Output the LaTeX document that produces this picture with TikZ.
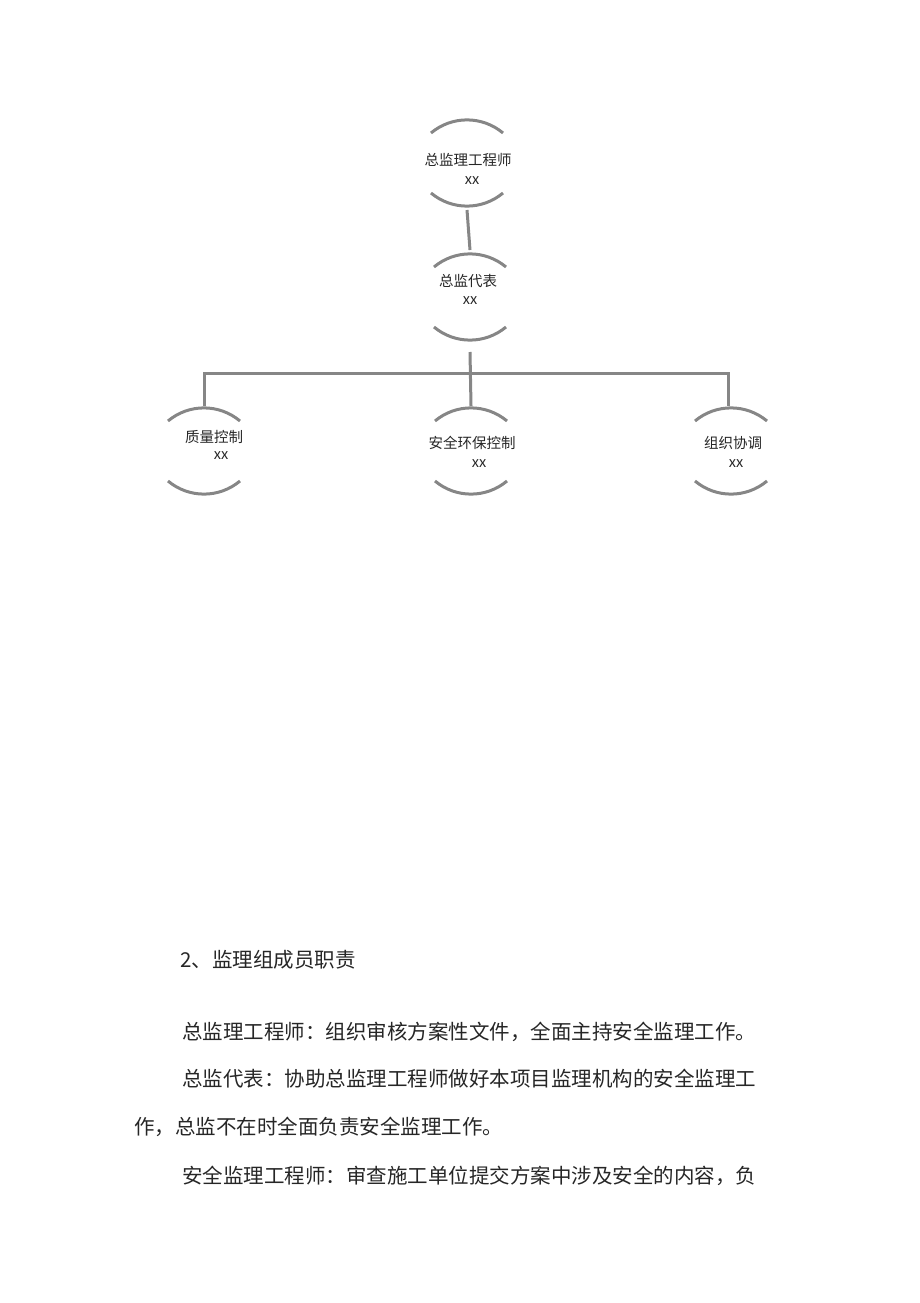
\documentclass[tikz,border=0pt]{standalone}
\usepackage{fontspec}
\setmainfont{Noto Sans CJK SC}
\usetikzlibrary{calc}
\begin{document}
\begin{tikzpicture}[x=1pt,y=-1pt,
  arcs/.style={draw=gray!95,line width=3pt},
  conn/.style={draw=gray!95,line width=3pt},
  lbl/.style={inner sep=0pt,font=\fontsize{14.5}{16}\selectfont,text=black!85},
  body/.style={inner sep=0pt,anchor=west,font=\fontsize{20.5}{24}\selectfont,text=black!85}]
\useasboundingbox (0,0) rectangle (920,1303);
\foreach \cx/\cy/\nm in {467/163/a,470/297/b,204/451/c,471/451/d,731/451/e}{
  \coordinate (\nm) at (\cx,\cy);
  \draw[arcs] (\cx,\cy) ++(-36,-30) arc[start angle=230,end angle=310,radius=56];
  \draw[arcs] (\cx,\cy) ++(-36,30) arc[start angle=130,end angle=50,radius=56];
}
\node[lbl] (ta) at (468,160) {总监理工程师};
\node[lbl] (xa) at (472,181) {xx};
\node[lbl] (tb) at (468,281) {总监代表};
\node[lbl] (xb) at (470,301) {xx};
\node[lbl] (tc) at (214,437) {质量控制};
\node[lbl] (xc) at (221,456) {xx};
\node[lbl] (td) at (472,443) {安全环保控制};
\node[lbl] (xd) at (479,464) {xx};
\node[lbl] (te) at (733,443) {组织协调};
\node[lbl] (xe) at (736,464) {xx};
\coordinate (jl) at (204,373);
\coordinate (jr) at (728,373);
\draw[conn] ($(a)+(0,47)$) -- ($(b)+(0,-47)$);
\draw[conn] ($(b)+(0,55)$) -- ($(d)+(0,-45)$);
\draw[conn] ($(c)+(0,-45)$) -- (jl) -- (jr) -- ($(e)+(-3,-45)$);
\node[body] (p1) at (180,960) {2、监理组成员职责};
\node[body] (p2) at (182,1032) {总监理工程师：组织审核方案性文件，全面主持安全监理工作。};
\node[body] (p3) at (182,1079) {总监代表：协助总监理工程师做好本项目监理机构的安全监理工};
\node[body] (p4) at (134,1127) {作，总监不在时全面负责安全监理工作。};
\node[body] (p5) at (182,1176) {安全监理工程师：审查施工单位提交方案中涉及安全的内容，负};
\end{tikzpicture}
\end{document}
